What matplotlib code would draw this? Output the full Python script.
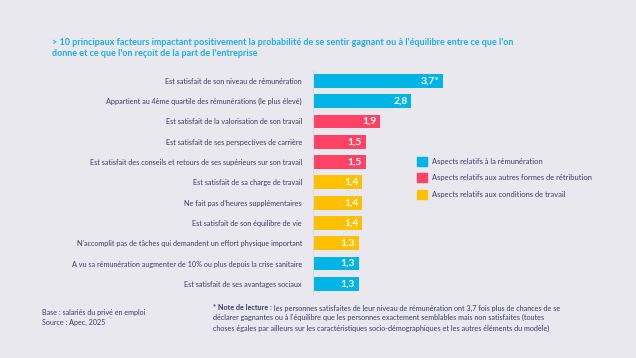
import matplotlib.pyplot as plt

plt.rcParams["font.family"] = ["Lato", "DejaVu Sans"]

# données
labels = [
    "Est satisfait de son niveau de rémunération",
    "Appartient au 4ème quartile des rémunérations (le plus élevé)",
    "Est satisfait de la valorisation de son travail",
    "Est satisfait de ses perspectives de carrière",
    "Est satisfait des conseils et retours de ses supérieurs sur son travail",
    "Est satisfait de sa charge de travail",
    "Ne fait pas d'heures supplémentaires",
    "Est satisfait de son équilibre de vie",
    "N'accomplit pas de tâches qui demandent un effort physique important",
    "A vu sa rémunération augmenter de 10% ou plus depuis la crise sanitaire",
    "Est satisfait de ses avantages sociaux",
]
values = [3.7, 2.8, 1.9, 1.5, 1.5, 1.4, 1.4, 1.4, 1.3, 1.3, 1.3]
value_texts = ["3,7*", "2,8", "1,9", "1,5", "1,5", "1,4", "1,4", "1,4", "1,3", "1,3", "1,3"]
groups = [0, 0, 1, 1, 1, 2, 2, 2, 2, 0, 0]
group_names = [
    "Aspects relatifs à la rémunération",
    "Aspects relatifs aux autres formes de rétribution",
    "Aspects relatifs aux conditions de travail",
]

colors = ["#00B5E5", "#FF4265", "#FFC000"]
bg = "#E9E8EE"
navy = "#3C3A6B"

fig = plt.figure(figsize=(6.36, 3.58), dpi=100, facecolor=bg)
ax = fig.add_axes([313 / 636, 1 - 294 / 358, 140.4 / 636, 223.3 / 358])
ax.set_facecolor(bg)

y = list(range(len(values)))
ax.barh(y, values, height=0.68, color=[colors[g] for g in groups])
ax.set_xlim(0, 4)
ax.set_ylim(len(values) - 0.5, -0.5)

for yi, v, t in zip(y, values, value_texts):
    ax.text(v - 0.1, yi, t, ha="right", va="center", color="white",
            fontsize=7.4, fontweight="bold")

ax.set_yticks(y)
ax.set_yticklabels(labels, fontsize=5.25, color=navy)
ax.tick_params(axis="y", length=0, pad=8)
ax.set_xticks([])
for s in ["top", "right", "bottom"]:
    ax.spines[s].set_visible(False)
ax.spines["left"].set_color("#D8D8DE")
ax.spines["left"].set_linewidth(0.8)

# titre
title_lines = [
    "> 10 principaux facteurs impactant positivement la probabilité de se sentir gagnant ou à l'équilibre entre ce que l'on",
    "donne et ce que l'on reçoit de la part de l'entreprise",
]
for i, line in enumerate(title_lines):
    fig.text(52 / 636, 1 - (42.5 + i * 11) / 358, line, ha="left", va="center",
             color="#1DB1E3", fontsize=6.5, fontweight="bold")

# légende
for i, name in enumerate(group_names):
    yy = 1 - (161.5 + i * 16.3) / 358
    fig.patches.append(plt.Rectangle((417 / 636, yy - 4.5 / 358), 10 / 636, 9 / 358,
                                     transform=fig.transFigure, color=colors[i],
                                     figure=fig))
    fig.text(432 / 636, yy, name, ha="left", va="center", color=navy, fontsize=5.4)

# notes
fig.text(42 / 636, 1 - 317.5 / 358, "Base : salariés du privé en emploi\nSource : Apec, 2025",
         ha="left", va="center", color=navy, fontsize=5.1, linespacing=1.45)

bold = fig.text(213 / 636, 1 - 308 / 358, "* Note de lecture :", ha="left", va="center",
                color=navy, fontsize=5.2, fontweight="bold")
ax.annotate(" les personnes satisfaites de leur niveau de rémunération ont 3,7 fois plus de chances de se",
            xy=(1, 0.5), xycoords=bold, ha="left", va="center", color=navy, fontsize=5.2,
            annotation_clip=False)
fig.text(213 / 636, 1 - 323 / 358,
         "déclarer gagnantes ou à l'équilibre que les personnes exactement semblables mais non satisfaites (toutes\n"
         "choses égales par ailleurs sur les caractéristiques socio-démographiques et les autres éléments du modèle)",
         ha="left", va="center", color=navy, fontsize=5.2, linespacing=1.5)

fig.savefig("out.png", dpi=100, facecolor=bg)
